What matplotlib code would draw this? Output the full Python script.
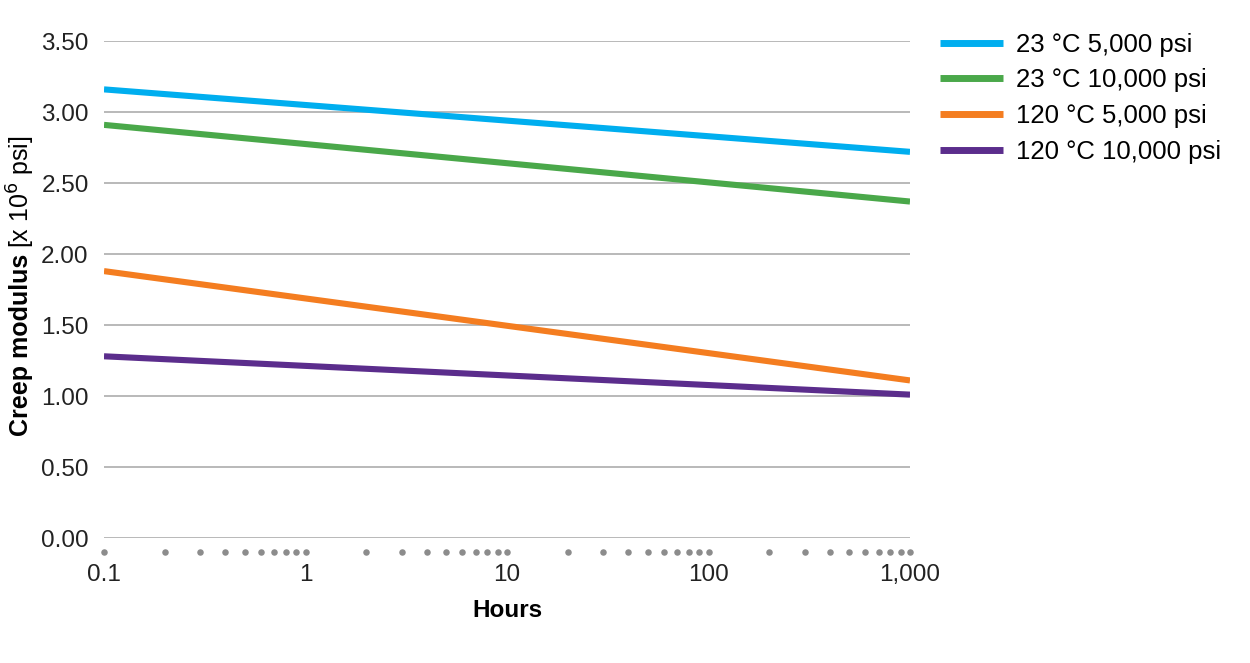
import matplotlib
matplotlib.use('Agg')
import matplotlib.pyplot as plt
import matplotlib.transforms as mtransforms
import numpy as np

plt.rcParams['font.family'] = ['Liberation Sans', 'DejaVu Sans']

# datos (horas, modulo en 10^6 psi)
horas = [0.1, 1000]
series = ['23 °C 5,000 psi', '23 °C 10,000 psi', '120 °C 5,000 psi', '120 °C 10,000 psi']
valores = [
    [3.16, 2.72],
    [2.91, 2.37],
    [1.88, 1.11],
    [1.28, 1.01],
]
cores = ['#00AEEF', '#4AA84A', '#F47D20', '#5B2D8C']

y_ticks = [0.0, 0.5, 1.0, 1.5, 2.0, 2.5, 3.0, 3.5]
x_ticks = [0.1, 1, 10, 100, 1000]
x_labels = ['0.1', '1', '10', '100', '1,000']

fig = plt.figure(figsize=(12.5, 6.63), dpi=100)
ax = fig.add_axes([0.0832, 0.1885, 0.6448, 0.7495])

for nome, v, c in zip(series, valores, cores):
    ax.plot(horas, v, color=c, lw=4.4, label=nome, solid_capstyle='butt', zorder=3)

ax.set_xscale('log')
ax.set_xlim(0.1, 1000)
ax.set_ylim(0, 3.5)
ax.set_yticks(y_ticks)
ax.set_yticklabels([f'{t:.2f}' for t in y_ticks])
ax.set_xticks(x_ticks)
ax.set_xticklabels(x_labels)
ax.xaxis.set_minor_locator(matplotlib.ticker.NullLocator())
ax.grid(axis='y', color='#a6a6a6', lw=1.1)
ax.set_axisbelow(True)
for s in ax.spines.values():
    s.set_visible(False)
ax.tick_params(axis='both', length=0, labelsize=17.5, colors='#222222')
ax.tick_params(axis='y', pad=11)
ax.tick_params(axis='x', pad=19)

# pontinhos cinza nas posicoes de cada divisao logaritmica
pontos = []
for dec in [0.1, 1, 10, 100]:
    for k in range(1, 10):
        pontos.append(dec * k)
pontos.append(1000)
trans = mtransforms.blended_transform_factory(ax.transData, ax.transAxes)
ax.scatter(pontos, [-0.028] * len(pontos), s=22, color='#8c8c8c', transform=trans,
           clip_on=False, zorder=4, linewidths=0)

ax.set_xlabel('Hours', fontsize=17.5, fontweight='bold', labelpad=9)

# rotulo do eixo y com dois pesos de fonte
t1 = fig.text(21 / 1250, 1 - 436 / 663, 'Creep modulus', rotation=90, fontsize=18,
              fontweight='bold', ha='center', va='bottom')
fig.canvas.draw()
r = fig.canvas.get_renderer()
bb = t1.get_window_extent(r)
fig.text(21 / 1250, (bb.y1 + 6) / fig.bbox.height, '[x 10$^{6}$ psi]', rotation=90,
         fontsize=18, ha='center', va='bottom')

leg = ax.legend(loc='upper left', bbox_to_anchor=(1.009, 1.063), frameon=False,
                fontsize=18.5, handlelength=2.45, handletextpad=0.5, labelspacing=0.45)
for h in leg.get_lines():
    h.set_linewidth(5)

fig.savefig('out.png', dpi=100)
